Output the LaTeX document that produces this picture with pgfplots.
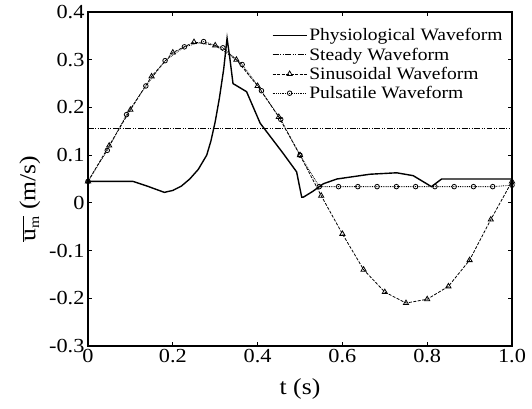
\documentclass[border=0pt]{standalone}
\usepackage{fontspec}
\setmainfont[FakeStretch=1.12]{Liberation Serif}
\usepackage{pgfplots}
\pgfplotsset{compat=1.18}

\begin{document}
\begin{tikzpicture}
\begin{axis}[name=ax, scale only axis, width=424bp, height=334bp,
    xmin=0, xmax=1, ymin=-0.3, ymax=0.4,
    xtick={0,0.2,0.4,0.6,0.8,1.0}, xticklabels={0,0.2,0.4,0.6,0.8,1.0},
    ytick={-0.3,-0.2,-0.1,0,0.1,0.2,0.3,0.4},
    yticklabels={-0.3,-0.2,-0.1,0,0.1,0.2,0.3,0.4},
    tick align=inside, major tick length=4bp,
    axis line style={line width=1.3pt}, tick style={line width=1pt, black},
    ticklabel style={font=\fontsize{20}{22}\selectfont},
    xlabel={t (s)},
    ylabel={$\overline{\mbox{\fontsize{23}{24}\selectfont u}_{\mbox{\fontsize{14}{14}\selectfont m}}}$ (m/s)},
    label style={font=\fontsize{23}{25}\selectfont},
    xlabel style={yshift=-9bp},
    ylabel style={at={(ticklabel cs:0.465)}, yshift=2bp, xshift=-8bp},
    legend style={at={(0.985,0.96)}, anchor=north east, draw=none, fill=none,
        font=\fontsize{17.5}{19}\selectfont, row sep=1.5bp, inner sep=1bp},
    legend cell align=left,
    legend image code/.code={\draw[mark repeat=2,mark phase=2,#1] plot coordinates {(0cm,0cm) (0.6cm,0cm) (1.2cm,0cm)};},
]
% physiological
\addplot[black, line width=1.4pt, mark=none] coordinates {
    (0,0.045) (0.106,0.045) (0.14,0.035) (0.18,0.022) (0.2,0.026) (0.22,0.035)
    (0.24,0.05) (0.26,0.07) (0.28,0.1) (0.29,0.13) (0.30,0.17) (0.31,0.22)
    (0.32,0.28) (0.328,0.345) (0.335,0.30) (0.342,0.25) (0.374,0.233)
    (0.406,0.167) (0.46,0.104) (0.492,0.065) (0.504,0.012) (0.508,0.012)
    (0.53,0.024) (0.555,0.04) (0.587,0.05) (0.665,0.06) (0.728,0.063)
    (0.767,0.057) (0.81,0.034) (0.834,0.05) (1.0,0.05)
};
\addlegendentry{Physiological Waveform}
% steady
\addplot[black, line width=0.8pt, mark=none, dash pattern=on 6pt off 1.5pt on 1pt off 1.5pt on 1pt off 1.5pt] coordinates {
    (0,0.157) (1.0,0.157)
};
\addlegendentry{Steady Waveform}
% sinusoidal
\addplot[black, line width=0.8pt, dash pattern=on 3pt off 1.5pt, mark=triangle, mark size=3pt,
    mark options={solid, line width=0.8pt, fill=white}] coordinates {
    (0,0.045) (0.05,0.12) (0.1,0.195) (0.15,0.265) (0.2,0.315) (0.25,0.337)
    (0.3,0.33) (0.35,0.30) (0.4,0.245) (0.45,0.18) (0.5,0.10) (0.55,0.015)
    (0.6,-0.065) (0.65,-0.14) (0.7,-0.187) (0.75,-0.21) (0.8,-0.202)
    (0.85,-0.175) (0.9,-0.12) (0.95,-0.035) (1.0,0.045)
};
\addlegendentry{Sinusoidal Waveform}
% pulsatile
\addplot[black, line width=0.8pt, densely dotted, mark=o, mark size=2.3pt,
    mark options={solid, line width=0.8pt, fill=white}] coordinates {
    (0,0.045) (0.0455,0.11) (0.0909,0.185) (0.1364,0.245) (0.1818,0.298)
    (0.2273,0.327) (0.2727,0.338) (0.3182,0.325) (0.3636,0.29) (0.4091,0.235)
    (0.4545,0.175) (0.5,0.10) (0.5455,0.034) (0.5909,0.034) (0.6364,0.034)
    (0.6818,0.034) (0.7273,0.034) (0.7727,0.034) (0.8182,0.034) (0.8636,0.034)
    (0.9091,0.034) (0.9545,0.034) (1.0,0.037)
};
\addlegendentry{Pulsatile Waveform}
\end{axis}
\path ([xshift=-88bp,yshift=-63bp]ax.south west) rectangle ([xshift=20bp,yshift=12bp]ax.north east);
\end{tikzpicture}
\end{document}
